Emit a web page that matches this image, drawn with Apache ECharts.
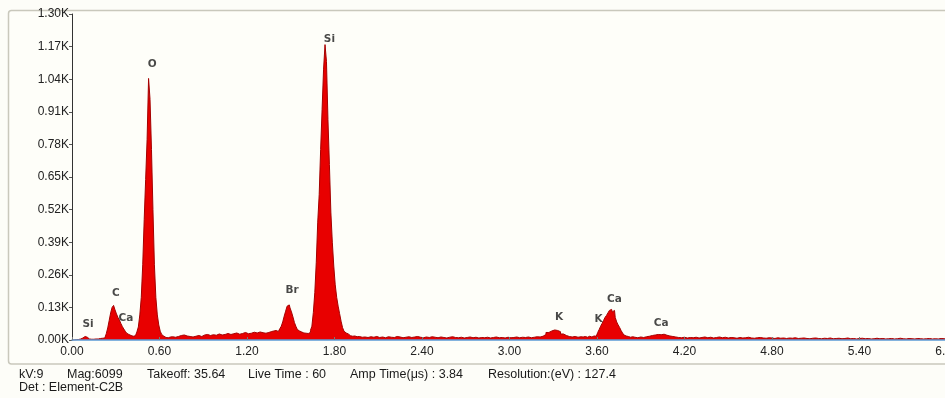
<!DOCTYPE html>
<html>
<head>
<meta charset="utf-8">
<script src="https://cdn.jsdelivr.net/npm/echarts@6/dist/echarts.min.js"></script>
<style>
html,body{margin:0;padding:0;background:#fdfdf8;}
#chart{width:945px;height:398px;}
</style>
</head>
<body>
<div id="chart"></div>
<script>
// X-axis tick labels (keV) and Y-axis tick labels (counts)
const xTicks = [0, 0.6, 1.2, 1.8, 2.4, 3.0, 3.6, 4.2, 4.8, 5.4, 6.0];
const yTicks = [0, 130, 260, 390, 520, 650, 780, 910, 1040, 1170, 1300];

// Spectrum counts, segment by segment (start keV, step keV)
const segA = { start: 0.00, step: 0.01 };
const countsA = [0,0,1,1,2,2,4,8,12,14,11,6,4,3,4,3,4,5,4,6,5,7,8,14,25,48,78,108,130,138,120,104,90,80,66,54,44,35,27,22,18,16,15,17,22,32,52,100,170,300,480,640,800,1043,960,760,520,300,170,100,60,35,22,15,10,8,9,12,10,13,11];
const segB = { start: 0.72, step: 0.02 };
const countsB = [14,18,20,16,14,12,15,18,14,20,22,18,21,19,24,20,22,26,22,25,28,23,26,30,25,27,31,28,32,29,27,30,34,36];
const segC = { start: 1.39, step: 0.01 };
const countsC = [35,38,34,40,45,55,72,95,115,135,140,128,112,92,70,55,42,36,32,30,28,27,29,26,30,38,55,110,190,310,470,580,760,920,1080,1178,1110,880,700,510,390,295,220,170,135,105,75,50,35,28,24,20,17,15,14,16,13,12,14,11];
const segD = { start: 2.00, step: 0.02 };
const countsD = [12,10,13,11,14,10,12,9,13,11,10,14,12,9,11,13,10,12,14,11,9,12,10,13,11,9,12,10,8,11,13,10,9,11,8,10,12,9,11,8,10,9,11,8,10,12,9,10,8,11,9,10,12,9,11,10,12,9,11,13,12,15,22,30,36,40,38,33,24,18,14,12,14,11,13,12];
const segE = { start: 3.51, step: 0.01 };
const countsE = [12,14,11,13,15,12,14,16,15,22,30,42,55,66,78,90,98,108,118,122,112,118,90,72,60,50,38,28,20,16,14,12,11,13,10];
const segF = { start: 3.86, step: 0.02 };
const countsF = [11,9,12,10,13,15,18,20,22,21,23,19,16,14,12,10,9,11,8,10,9,11,8,10,12,9,11,8,10,12,9,11,8,10,9,7,10,8,9,11,8,7,9,10,8,7,9,8,6,9,7,8,6,8,7,9,6,7,8,6,5,7,8,6,5,7,6,8,5,6,7,5,6,8,5,6,4,6,7,5,6,4,5,7,5,6,4,5,6,4,5,7,5,4,6,5,4,6,5,4,5,6,4,5,4,6,5,4];

// Element peak labels
const peakNames = ['Si', 'C', 'Ca', 'O', 'Br', 'Si', 'K', 'K', 'Ca', 'Ca'];
const peakE     = [0.11, 0.30, 0.37, 0.55, 1.51, 1.765, 3.34, 3.61, 3.72, 4.04];
const peakC     = [62, 188, 86, 1100, 200, 1198, 92, 82, 164, 68];

// Acquisition info lines
const infoLine1 = ['kV:9', 'Mag:6099', 'Takeoff: 35.64', 'Live Time : 60', 'Amp Time(\u03bcs) : 3.84', 'Resolution:(eV) : 127.4'];
const infoLine1X = [19, 67, 147, 248, 350, 488];
const infoLine2 = 'Det : Element-C2B';

function seg(s, arr) {
  return arr.map((c, i) => [+(s.start + i * s.step).toFixed(3), c]);
}
const spectrum = [].concat(seg(segA, countsA), seg(segB, countsB), seg(segC, countsC),
  seg(segD, countsD), seg(segE, countsE), seg(segF, countsF));

const labelData = peakNames.map((n, i) => [peakE[i], peakC[i], n]);

const chart = echarts.init(document.getElementById('chart'), null, { renderer: 'canvas' });

const graphics = [
  { type: 'rect', z: -100, silent: true,
    shape: { x: 8.5, y: 10.5, width: 960, height: 353.5, r: 3 },
    style: { fill: '#fefef9', stroke: '#c9c8bc', lineWidth: 1.5 } }
];
infoLine1.forEach((t, i) => {
  graphics.push({ type: 'text', left: infoLine1X[i], top: 368,
    style: { text: t, font: '12.5px "Liberation Sans", Arial, sans-serif', fill: '#1a1a1a' } });
});
graphics.push({ type: 'text', left: 19, top: 381,
  style: { text: infoLine2, font: '12.5px "Liberation Sans", Arial, sans-serif', fill: '#1a1a1a' } });

chart.setOption({
  animation: false,
  backgroundColor: '#fdfdf8',
  graphic: graphics,
  grid: { left: 72, top: 14, width: 875, height: 326, containLabel: false, outerBoundsMode: 'none' },
  xAxis: {
    type: 'value', min: xTicks[0], max: xTicks[xTicks.length - 1], interval: 0.6,
    z: 5,
    axisLine: { show: true, lineStyle: { color: '#5b9bd5', width: 1.5 } },
    axisTick: { show: true, inside: true, length: 3, lineStyle: { color: '#777' } },
    splitLine: { show: false },
    axisLabel: { margin: 6, fontSize: 12, color: '#222', fontFamily: '"Liberation Sans", Arial, sans-serif',
      formatter: v => v.toFixed(2) }
  },
  yAxis: {
    type: 'value', min: yTicks[0], max: yTicks[yTicks.length - 1], interval: 130,
    axisLine: { show: true, lineStyle: { color: '#333', width: 1 } },
    axisTick: { show: true, length: 3, lineStyle: { color: '#555' } },
    splitLine: { show: false },
    axisLabel: { margin: 3, fontSize: 12, color: '#222', fontFamily: '"Liberation Sans", Arial, sans-serif',
      formatter: v => (v / 1000).toFixed(2) + 'K' }
  },
  series: [
    {
      type: 'line', data: spectrum, step: 'middle', showSymbol: false, symbol: 'none',
      lineStyle: { color: '#a50000', width: 1 },
      areaStyle: { color: '#e80000', opacity: 1 },
      z: 2
    },
    {
      type: 'scatter', data: labelData, symbolSize: 1,
      itemStyle: { color: 'rgba(0,0,0,0)' },
      label: { show: true, position: 'inside', formatter: p => p.data[2],
        fontSize: 10.5, fontWeight: 'bold', color: '#1a1a1a', fontFamily: '"DejaVu Sans", Verdana, sans-serif' },
      z: 6
    }
  ]
});
</script>
</body>
</html>
